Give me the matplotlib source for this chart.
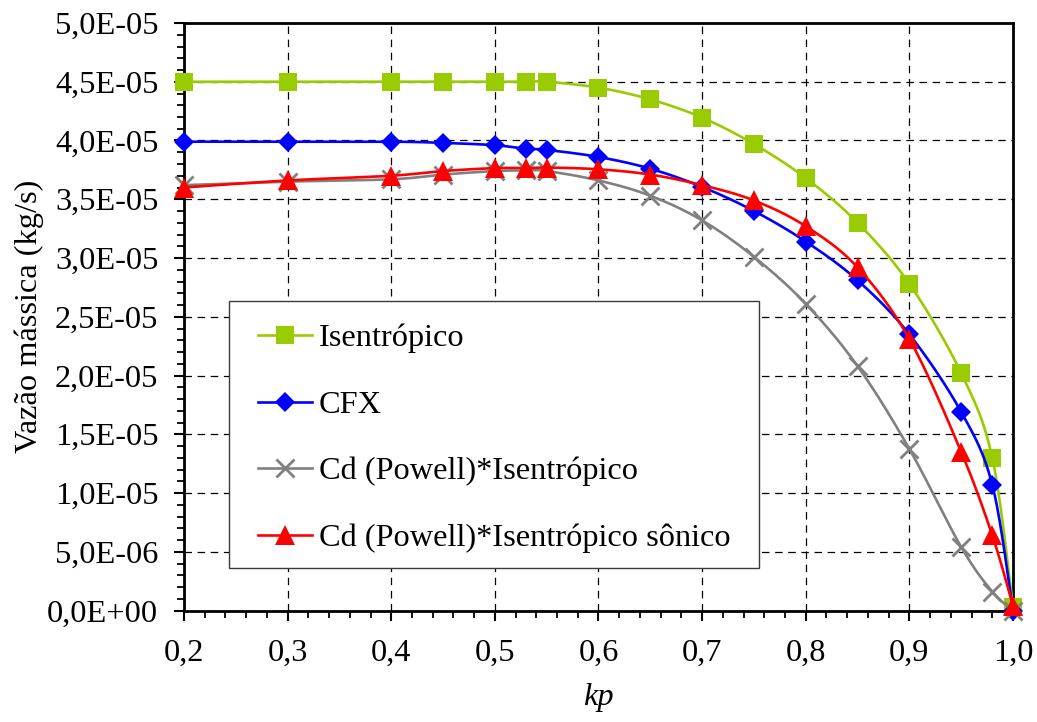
import numpy as np
import matplotlib
matplotlib.use("Agg")
import matplotlib.pyplot as plt
from matplotlib.ticker import MultipleLocator, FixedLocator
from matplotlib.patches import Rectangle

# ---------------- data ----------------
kp = [0.2, 0.3, 0.4, 0.45, 0.5, 0.53, 0.55, 0.6, 0.65, 0.7, 0.75, 0.8, 0.85, 0.9, 0.95, 0.98, 1.0]

isentropico = [4.50e-5, 4.50e-5, 4.50e-5, 4.50e-5, 4.50e-5, 4.50e-5, 4.50e-5, 4.45e-5, 4.35e-5,
               4.195e-5, 3.97e-5, 3.68e-5, 3.30e-5, 2.78e-5, 2.02e-5, 1.30e-5, 0.03e-5]
cfx = [3.99e-5, 3.99e-5, 3.99e-5, 3.98e-5, 3.96e-5, 3.93e-5, 3.92e-5, 3.86e-5, 3.76e-5,
       3.605e-5, 3.40e-5, 3.14e-5, 2.81e-5, 2.35e-5, 1.69e-5, 1.07e-5, 0.0]
cd_isen = [3.62e-5, 3.65e-5, 3.67e-5, 3.71e-5, 3.74e-5, 3.745e-5, 3.74e-5, 3.66e-5, 3.53e-5,
           3.32e-5, 3.01e-5, 2.61e-5, 2.08e-5, 1.375e-5, 0.54e-5, 0.16e-5, 0.0]
cd_isen_sonico = [3.60e-5, 3.66e-5, 3.70e-5, 3.74e-5, 3.765e-5, 3.765e-5, 3.77e-5, 3.755e-5, 3.71e-5,
                  3.62e-5, 3.49e-5, 3.27e-5, 2.92e-5, 2.31e-5, 1.35e-5, 0.64e-5, 0.04e-5]

series_labels = ["Isentrópico", "CFX", "Cd (Powell)*Isentrópico", "Cd (Powell)*Isentrópico sônico"]

x_ticks = [0.2, 0.3, 0.4, 0.5, 0.6, 0.7, 0.8, 0.9, 1.0]
x_ticklabels = ["0,2", "0,3", "0,4", "0,5", "0,6", "0,7", "0,8", "0,9", "1,0"]
y_ticks = [0.0, 0.5e-5, 1.0e-5, 1.5e-5, 2.0e-5, 2.5e-5, 3.0e-5, 3.5e-5, 4.0e-5, 4.5e-5, 5.0e-5]
y_ticklabels = ["0,0E+00", "5,0E-06", "1,0E-05", "1,5E-05", "2,0E-05", "2,5E-05",
                "3,0E-05", "3,5E-05", "4,0E-05", "4,5E-05", "5,0E-05"]

# ---------------- style ----------------
plt.rcParams['font.family'] = ['Liberation Serif', 'DejaVu Serif']
FS = 23.3
W, H = 1037, 722

XMIN, XMAX, YMIN, YMAX = 0.2, 1.0, 0.0, 5.0e-5
AX_W_PX, AX_H_PX = 829.0, 587.5


def smooth(xs, ys, n=30):
    """Excel-like smoothed line (Catmull-Rom Bezier) computed in pixel space."""
    px = (np.asarray(xs) - XMIN) / (XMAX - XMIN) * AX_W_PX
    py = (np.asarray(ys) - YMIN) / (YMAX - YMIN) * AX_H_PX
    P = np.column_stack([px, py])
    out = [P[0]]
    t = np.linspace(0, 1, n)[1:, None]
    for i in range(len(P) - 1):
        p0 = P[i - 1] if i > 0 else P[i]
        p1 = P[i]
        p2 = P[i + 1]
        p3 = P[i + 2] if i + 2 < len(P) else P[i + 1]
        c1 = p1 + (p2 - p0) / 6.0
        c2 = p2 - (p3 - p1) / 6.0
        seg = ((1 - t) ** 3) * p1 + 3 * ((1 - t) ** 2) * t * c1 + 3 * (1 - t) * t ** 2 * c2 + t ** 3 * p2
        out.extend(seg)
    out = np.array(out)
    return (out[:, 0] / AX_W_PX * (XMAX - XMIN) + XMIN,
            out[:, 1] / AX_H_PX * (YMAX - YMIN) + YMIN)


fig = plt.figure(figsize=(W / 100, H / 100), dpi=100)
ax = fig.add_axes([184 / W, 1 - 610.5 / H, (1013 - 184) / W, (610.5 - 23) / H])

styles = [
    dict(color="#99CC00", marker="s", ms=12.5, mew=0),
    dict(color="#0000FF", marker="D", ms=10.5, mew=0),
    dict(color="#808080", marker="x", ms=13.5, mew=2.0),
    dict(color="#FF0000", marker="^", ms=14, mew=0),
]
all_series = [isentropico, cfx, cd_isen, cd_isen_sonico]

handles = []
for i, (ys, st, lab) in enumerate(zip(all_series, styles, series_labels)):
    sx, sy = smooth(kp, ys)
    ax.plot(sx, sy, color=st["color"], lw=1.9, zorder=3 + i, solid_capstyle='round')
    ax.plot(kp, ys, linestyle="none", marker=st["marker"], ms=st["ms"],
            color=st["color"], mec=st["color"], mew=st["mew"], zorder=3 + i, clip_on=False)
    h, = ax.plot([], [], color=st["color"], lw=1.9, marker=st["marker"], ms=st["ms"],
                 mec=st["color"], mew=st["mew"], label=lab)
    handles.append(h)

ax.set_xlim(XMIN, XMAX)
ax.set_ylim(YMIN, YMAX)

ax.xaxis.set_major_locator(FixedLocator(x_ticks))
ax.set_xticklabels(x_ticklabels)
ax.xaxis.set_minor_locator(MultipleLocator(0.02))
ax.yaxis.set_major_locator(FixedLocator(y_ticks))
ax.set_yticklabels(y_ticklabels)
ax.yaxis.set_minor_locator(MultipleLocator(0.1e-5))

ax.tick_params(axis='both', which='major', direction='out', length=7.5, width=1.5,
               labelsize=FS, color='black')
ax.tick_params(axis='both', which='minor', direction='out', length=5, width=1.3, color='black')
ax.tick_params(axis='y', which='major', pad=11)
ax.tick_params(axis='x', which='major', pad=13)

for sp in ax.spines.values():
    sp.set_linewidth(2.0)
    sp.set_color('black')

ax.grid(True, which='major', color='black', linestyle=(0, (6, 4.5)), linewidth=0.9)
ax.set_axisbelow(True)

ax.set_xlabel("kp", fontsize=FS, style='italic')
ax.xaxis.set_label_coords(0.5, (610.5 - 683) / 587.5)
ax.set_ylabel("Vazão mássica (kg/s)", fontsize=FS)
ax.yaxis.set_label_coords((44 - 184) / 829, 0.5)

# legend frame (drawn separately for exact placement)
rect = Rectangle((229 / W, 1 - 568 / H), (759 - 229) / W, (568 - 301) / H,
                 transform=fig.transFigure, facecolor='white', edgecolor='#3a3a3a',
                 linewidth=1.0, zorder=10)
fig.add_artist(rect)

leg = fig.legend(handles=handles, loc='upper left',
                 bbox_to_anchor=(235 / W, 1 - 301 / H), borderaxespad=0,
                 fontsize=FS, frameon=False, handlelength=1.67, handletextpad=0.22,
                 labelspacing=1.14, borderpad=0.7)
leg.set_zorder(20)

fig.savefig("out.png", dpi=100)
